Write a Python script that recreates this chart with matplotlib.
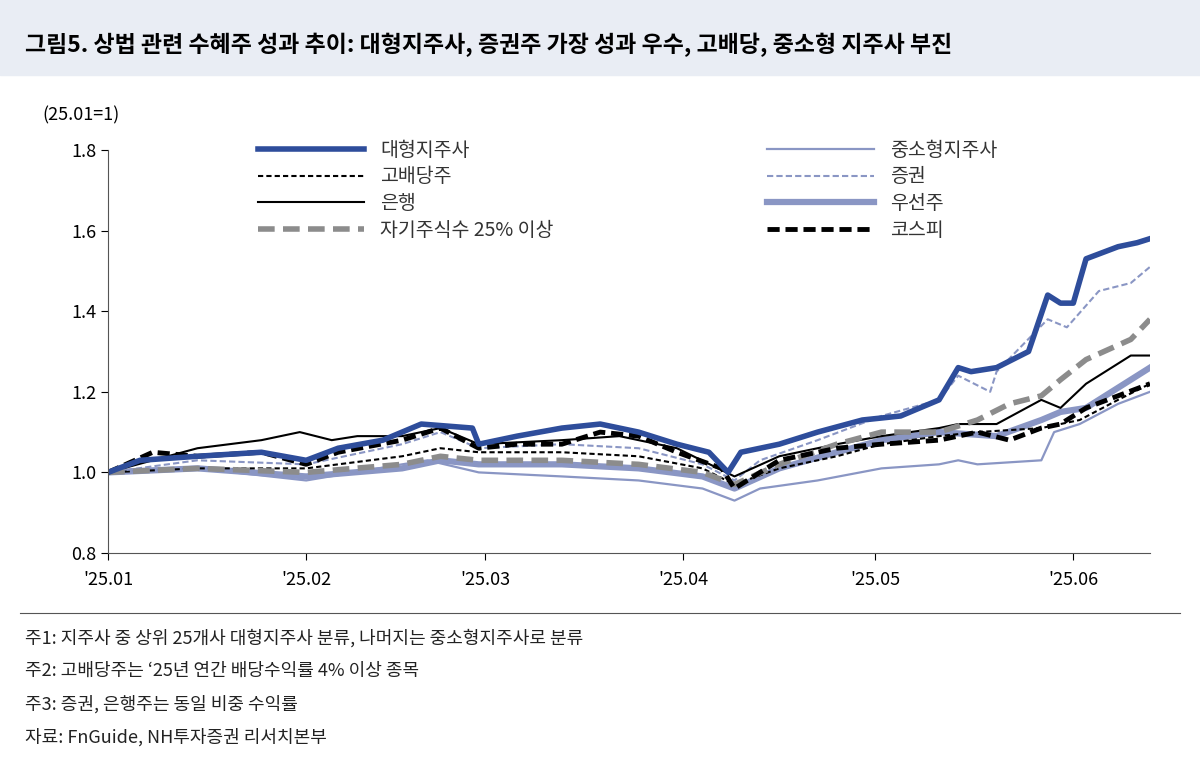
import matplotlib
matplotlib.use("Agg")
import matplotlib.pyplot as plt
from matplotlib.patches import Rectangle
from matplotlib import font_manager

names = {f.name for f in font_manager.fontManager.ttflist}
fam = [n for n in ["Noto Sans CJK KR", "Noto Sans CJK JP", "Noto Sans CJK SC", "Noto Sans CJK TC"] if n in names]
plt.rcParams["font.family"] = fam + ["DejaVu Sans"]

# days since 2025-01-01
tick_days = [0, 31, 59, 90, 120, 151]
tick_labels = ["'25.01", "'25.02", "'25.03", "'25.04", "'25.05", "'25.06"]

large_x = [0,5,14,24,31,36,43,49,57,58,64,71,77,83,89,94,97,99,105,111,118,124,130,133,135,139,144,147,149,151,153,158,161,163]
large_y = [1.0,1.03,1.04,1.05,1.03,1.06,1.08,1.12,1.11,1.07,1.09,1.11,1.12,1.10,1.07,1.05,1.00,1.05,1.07,1.10,1.13,1.14,1.18,1.26,1.25,1.26,1.30,1.44,1.42,1.42,1.53,1.56,1.57,1.58]
small_x = [0,14,31,46,50,58,71,83,93,98,102,111,121,130,133,136,146,148,152,158,163]
small_y = [1.0,1.01,0.98,1.02,1.03,1.00,0.99,0.98,0.96,0.93,0.96,0.98,1.01,1.02,1.03,1.02,1.03,1.10,1.12,1.17,1.20]
div_x = [0,14,31,46,52,58,71,83,93,98,105,114,121,130,136,146,152,158,163]
div_y = [1.0,1.01,1.01,1.04,1.06,1.05,1.05,1.04,1.01,0.97,1.01,1.04,1.07,1.09,1.10,1.11,1.13,1.18,1.22]
sec_x = [0,14,31,46,52,58,71,83,93,98,102,111,121,130,133,138,139,147,150,155,160,163]
sec_y = [1.0,1.03,1.02,1.07,1.10,1.06,1.07,1.06,1.02,0.98,1.03,1.08,1.14,1.18,1.24,1.20,1.25,1.38,1.36,1.45,1.47,1.51]
bank_x = [0,14,24,30,35,39,46,52,58,71,80,89,98,105,114,121,130,133,139,146,149,153,160,163]
bank_y = [1.0,1.06,1.08,1.10,1.08,1.09,1.09,1.11,1.07,1.08,1.09,1.06,0.99,1.04,1.07,1.09,1.11,1.12,1.12,1.18,1.16,1.22,1.29,1.29]
pref_x = [0,14,31,46,52,58,71,83,93,98,105,114,121,130,139,146,149,153,160,163]
pref_y = [1.0,1.01,0.99,1.01,1.03,1.02,1.02,1.01,0.99,0.96,1.01,1.05,1.08,1.10,1.09,1.13,1.15,1.16,1.23,1.26]
tre_x = [0,14,31,46,52,58,71,83,93,98,105,114,121,130,136,141,146,149,153,160,163]
tre_y = [1.0,1.01,1.0,1.02,1.04,1.03,1.03,1.02,1.0,0.97,1.02,1.07,1.10,1.10,1.13,1.17,1.19,1.23,1.28,1.33,1.38]
kospi_x = [0,7,14,24,31,36,46,52,58,64,71,77,83,89,96,98,105,114,121,130,136,141,146,149,153,163]
kospi_y = [1.0,1.05,1.04,1.05,1.02,1.05,1.08,1.11,1.06,1.07,1.07,1.10,1.09,1.05,1.01,0.96,1.03,1.06,1.07,1.08,1.10,1.08,1.11,1.12,1.16,1.22]

fig = plt.figure(figsize=(12, 7.62), dpi=100)
fig.patches.append(Rectangle((0, 1-75/762), 1, 75/762, transform=fig.transFigure, color="#e9edf4", zorder=0))
fig.text(25/1200, 1-45/762, "그림5. 상법 관련 수혜주 성과 추이: 대형지주사, 증권주 가장 성과 우수, 고배당, 중소형 지주사 부진",
         fontsize=16.5, fontweight="bold", va="center")

ax = fig.add_axes([108/1200, 1-553/762, (1150-108)/1200, (553-150)/762])
ax.plot(pref_x, pref_y, color="#8a96c4", lw=4.5, label="우선주")
ax.plot(small_x, small_y, color="#8a96c4", lw=1.6, label="중소형지주사")
ax.plot(div_x, div_y, color="black", lw=1.5, ls=(0, (2.5, 1.5)), label="고배당주")
ax.plot(sec_x, sec_y, color="#8a96c4", lw=1.5, ls=(0, (3, 1.5)), label="증권")
ax.plot(bank_x, bank_y, color="black", lw=1.5, label="은행")
ax.plot(tre_x, tre_y, color="#8c8c8c", lw=4, ls=(0, (3, 1.5)), label="자기주식수 25% 이상")
ax.plot(kospi_x, kospi_y, color="black", lw=3.5, ls=(0, (2.5, 1.2)), label="코스피")
ax.plot(large_x, large_y, color="#2e4d9b", lw=4, label="대형지주사")

h, l = ax.get_legend_handles_labels()
order = ["대형지주사", "고배당주", "은행", "자기주식수 25% 이상", "중소형지주사", "증권", "우선주", "코스피"]
hh = [h[l.index(o)] for o in order]
fig.legend(hh, order, loc="upper left", bbox_to_anchor=(240/1200, 1-122/762), ncol=2,
           frameon=False, fontsize=14, handlelength=5.5, columnspacing=11, labelspacing=0.3,
           labelcolor="#333333")

ax.set_xlim(0, 163)
ax.set_ylim(0.8, 1.8)
ax.set_yticks([0.8, 1.0, 1.2, 1.4, 1.6, 1.8])
ax.set_yticklabels(["0.8", "1.0", "1.2", "1.4", "1.6", "1.8"], fontsize=13)
ax.set_xticks(tick_days)
ax.set_xticklabels(tick_labels, fontsize=13)
ax.tick_params(axis="x", length=5, direction="out", pad=8)
ax.tick_params(axis="y", length=5, direction="out")
for s in ["top", "right"]:
    ax.spines[s].set_visible(False)
for s in ["left", "bottom"]:
    ax.spines[s].set_color("#555555")
fig.text(42/1200, 1-115/762, "(25.01=1)", fontsize=13, va="center")

fig.add_artist(plt.Line2D([20/1200, 1180/1200], [1-613/762]*2, color="#555555", lw=0.8))
notes = ["주1: 지주사 중 상위 25개사 대형지주사 분류, 나머지는 중소형지주사로 분류",
         "주2: 고배당주는 ‘25년 연간 배당수익률 4% 이상 종목",
         "주3: 증권, 은행주는 동일 비중 수익률",
         "자료: FnGuide, NH투자증권 리서치본부"]
for i, n in enumerate(notes):
    fig.text(25/1200, 1-(638+33*i)/762, n, fontsize=13, va="center", color="#222222")

fig.savefig("out.png", dpi=100)
